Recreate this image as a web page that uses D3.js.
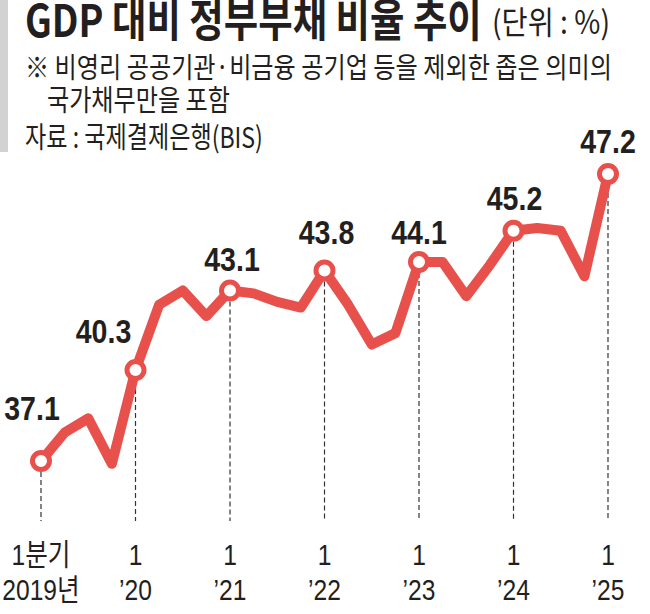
<!DOCTYPE html>
<html>
<head>
<meta charset="utf-8">
<script src="https://cdn.jsdelivr.net/npm/d3@7"></script>
<style>
  body { margin: 0; background: #fff; }
  svg { display: block; }
</style>
</head>
<body>
<svg id="chart" width="650" height="614"></svg>
<script>
// 분기별 GDP 대비 정부부채 비율 (2019년 1분기 ~ 2025년 1분기)
var debtRatio = [37.1, 38.1, 38.6, 37.0,
                 40.3, 42.6, 43.1, 42.2,
                 43.1, 43.0, 42.7, 42.5,
                 43.8, 42.6, 41.2, 41.6,
                 44.1, 44.1, 42.9, 44.0,
                 45.2, 45.3, 45.2, 43.6,
                 47.2];
// 1분기 위치 (라벨과 점선이 붙는 곳)
var firstQuarters = [0, 4, 8, 12, 16, 20, 24];
var tickTop = ["1분기", "1", "1", "1", "1", "1", "1"];
var tickBottom = ["2019년", "’20", "’21", "’22", "’23", "’24", "’25"];

var red = "#e8504c";
var ink = "#231f20";
var krFont = "'Noto Sans CJK KR', 'Noto Sans', sans-serif";
var numFont = "'Liberation Sans', Arial, 'Noto Sans CJK KR', sans-serif";

var svg = d3.select("#chart");

var x = d3.scaleLinear().domain([0, debtRatio.length - 1]).range([41, 608]);
var y = d3.scaleLinear().domain([37.1, 47.2]).range([461, 174]);

// 글자를 가로로 좁혀서 (신문 고딕처럼) 놓는다
function squeeze(sel, px, py, sx) {
  sel.attr("x", 0).attr("y", 0)
    .attr("transform", function(d, i){
      return "translate(" + px(d, i) + "," + py(d, i) + ") scale(" + sx(d, i, this) + ",1)";
    });
}

// 왼쪽 회색 띠
svg.append("rect")
  .attr("x", 0).attr("y", 0)
  .attr("width", 8).attr("height", 152)
  .attr("fill", "#d2d2d2");

// 제목 / 설명
var head = [
  {t: "GDP 대비 정부부채 비율 추이", x: 25, y: 37, size: 45, w: "bold", len: 457},
  {t: "(단위 : %)", x: 492, y: 34, size: 32, w: "normal", len: 118},
  {t: "※ 비영리 공공기관·비금융 공기업 등을 제외한 좁은 의미의", x: 25, y: 78, size: 29, w: "normal", len: 587},
  {t: "국가채무만을 포함", x: 47, y: 111, size: 29, w: "normal", len: 183},
  {t: "자료 : 국제결제은행(BIS)", x: 25, y: 148, size: 29, w: "normal", len: 238}
];
var headText = svg.selectAll("text.head")
  .data(head)
  .enter().append("text")
  .attr("class", "head")
  .attr("font-family", krFont)
  .attr("font-size", function(d){ return d.size; })
  .attr("font-weight", function(d){ return d.w; })
  .attr("fill", ink)
  .text(function(d){ return d.t; });
squeeze(headText,
  function(d){ return d.x; },
  function(d){ return d.y; },
  function(d, i, node){ return d.len / node.getComputedTextLength(); });

// 1분기 점선
svg.selectAll("line.guide")
  .data(firstQuarters)
  .enter().append("line")
  .attr("class", "guide")
  .attr("x1", function(i){ return x(i); })
  .attr("x2", function(i){ return x(i); })
  .attr("y1", function(i){ return y(debtRatio[i]) + 11; })
  .attr("y2", 521)
  .attr("stroke", "#333")
  .attr("stroke-width", 1.2)
  .attr("stroke-dasharray", "5,3");

// 꺾은선
var line = d3.line()
  .x(function(d, i){ return x(i); })
  .y(function(d){ return y(d); });

svg.append("path")
  .datum(debtRatio)
  .attr("d", line)
  .attr("fill", "none")
  .attr("stroke", red)
  .attr("stroke-width", 10)
  .attr("stroke-linejoin", "round")
  .attr("stroke-linecap", "round");

// 1분기 동그라미
svg.selectAll("circle")
  .data(firstQuarters)
  .enter().append("circle")
  .attr("cx", function(i){ return x(i); })
  .attr("cy", function(i){ return y(debtRatio[i]); })
  .attr("r", 8.5)
  .attr("fill", "#fff")
  .attr("stroke", red)
  .attr("stroke-width", 5);

// 값 라벨 (점 기준 위치 보정)
var labelShift = {0: [-9, -41], 4: [-32, -27], 8: [2, -20], 12: [2, -27], 16: [0, -18], 20: [1, -21], 24: [0, -21]};
var valueText = svg.selectAll("text.value")
  .data(firstQuarters)
  .enter().append("text")
  .attr("class", "value")
  .attr("text-anchor", "middle")
  .attr("font-family", numFont)
  .attr("font-size", 34)
  .attr("font-weight", "bold")
  .attr("fill", ink)
  .text(function(i){ return debtRatio[i].toFixed(1); });
squeeze(valueText,
  function(i){ return x(i) + labelShift[i][0]; },
  function(i){ return y(debtRatio[i]) + labelShift[i][1]; },
  function(){ return 0.84; });

// x축 라벨
var topText = svg.selectAll("text.tickTop")
  .data(firstQuarters)
  .enter().append("text")
  .attr("class", "tickTop")
  .attr("text-anchor", "middle")
  .attr("font-family", numFont)
  .attr("font-size", 30)
  .attr("fill", ink)
  .text(function(d, k){ return tickTop[k]; });
squeeze(topText,
  function(i){ return x(i); },
  function(){ return 565; },
  function(){ return 0.82; });

var bottomText = svg.selectAll("text.tickBottom")
  .data(firstQuarters)
  .enter().append("text")
  .attr("class", "tickBottom")
  .attr("text-anchor", "middle")
  .attr("font-family", numFont)
  .attr("font-size", 30)
  .attr("fill", ink)
  .text(function(d, k){ return tickBottom[k]; });
squeeze(bottomText,
  function(i){ return x(i); },
  function(){ return 600; },
  function(){ return 0.82; });
</script>
</body>
</html>
